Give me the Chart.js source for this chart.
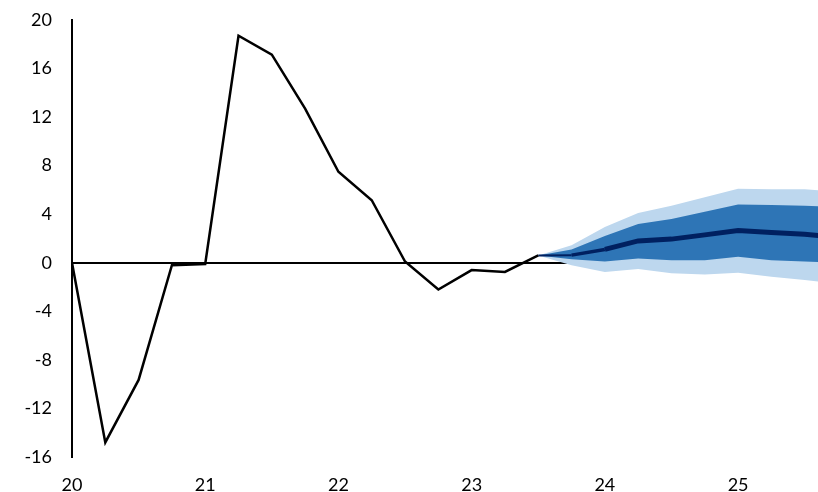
<!DOCTYPE html>
<html>
<head>
<meta charset="utf-8">
<script src="https://cdn.jsdelivr.net/npm/chart.js@4.4.1/dist/chart.umd.min.js"></script>
<style>
  html, body { margin: 0; padding: 0; background: #fff; }
  #wrap { width: 818px; height: 492px; }
</style>
</head>
<body>
<div id="wrap"><canvas id="fan-chart"></canvas></div>
<script>
// Outturn, quarterly from 20 (year) onward
const histQuarters = [20, 20.25, 20.5, 20.75, 21, 21.25, 21.5, 21.75, 22, 22.25, 22.5, 22.75, 23, 23.25, 23.5];
const histValues = [0, -14.8, -9.65, -0.2, -0.1, 18.7, 17.15, 12.7, 7.5, 5.15, 0.1, -2.2, -0.6, -0.75, 0.6];

// Projection fan
const fanQuarters = [23.5, 23.75, 24, 24.25, 24.5, 24.75, 25, 25.25, 25.5, 25.75];
const centralValues = [0.6, 0.63, 1.1, 1.8, 1.95, 2.3, 2.65, 2.5, 2.35, 2.1];
const innerUpper = [0.6, 1.1, 2.2, 3.2, 3.6, 4.2, 4.8, 4.75, 4.7, 4.6];
const innerLower = [0.6, 0.3, 0.1, 0.35, 0.2, 0.2, 0.5, 0.2, 0.1, 0.0];
const outerUpper = [0.6, 1.45, 2.95, 4.1, 4.7, 5.4, 6.1, 6.05, 6.05, 5.85];
const outerLower = [0.6, -0.2, -0.75, -0.52, -0.87, -0.96, -0.82, -1.15, -1.42, -1.75];

const yTicks = [-16, -12, -8, -4, 0, 4, 8, 12, 16, 20];

const toPoints = (xs, ys) => xs.map((x, i) => ({ x: x, y: ys[i] }));

const ctx = document.getElementById('fan-chart').getContext('2d');

new Chart(ctx, {
    type: 'line',
    data: {
        datasets: [
            {
                data: toPoints(histQuarters, histValues),
                borderColor: '#000000',
                borderWidth: 2.5,
                pointRadius: 0,
                fill: false
            },
            {
                data: toPoints(fanQuarters, centralValues),
                borderColor: '#002060',
                borderWidth: 5,
                pointRadius: 0,
                fill: false,
                // central band widens out from the last outturn
                segment: {
                    borderWidth: (s) => (s.p0DataIndex === 0 ? 2 : s.p0DataIndex === 1 ? 3.5 : 5)
                }
            },
            {
                data: toPoints(fanQuarters, innerUpper),
                borderWidth: 0,
                borderColor: 'rgba(0,0,0,0)',
                backgroundColor: '#2E75B6',
                pointRadius: 0,
                fill: '+1'
            },
            {
                data: toPoints(fanQuarters, innerLower),
                borderWidth: 0,
                borderColor: 'rgba(0,0,0,0)',
                pointRadius: 0,
                fill: false
            },
            {
                data: toPoints(fanQuarters, outerUpper),
                borderWidth: 0,
                borderColor: 'rgba(0,0,0,0)',
                backgroundColor: '#BDD7EE',
                pointRadius: 0,
                fill: '+1'
            },
            {
                data: toPoints(fanQuarters, outerLower),
                borderWidth: 0,
                borderColor: 'rgba(0,0,0,0)',
                pointRadius: 0,
                fill: false
            }
        ]
    },
    options: {
        responsive: true,
        maintainAspectRatio: false,
        animation: false,
        layout: {
            padding: { top: 20, right: 0, left: 0, bottom: 0 }
        },
        elements: {
            line: { tension: 0 }
        },
        scales: {
            x: {
                type: 'linear',
                min: 20,
                max: 25.6,
                grid: { display: false, drawTicks: false },
                border: { display: false },
                ticks: {
                    stepSize: 1,
                    includeBounds: false,
                    color: '#000000',
                    padding: 17,
                    maxRotation: 0,
                    font: { family: 'Lato', size: 18 }
                },
                afterFit: (scale) => { scale.height = 35; }
            },
            y: {
                min: -16,
                max: 20,
                z: 1,
                afterBuildTicks: (scale) => {
                    scale.ticks = yTicks.map(v => ({ value: v }));
                },
                grid: {
                    drawTicks: false,
                    lineWidth: 2,
                    color: (c) => (c.tick && c.tick.value === 0 ? '#000000' : 'rgba(0,0,0,0)')
                },
                border: { display: true, color: '#000000', width: 2 },
                ticks: {
                    color: '#000000',
                    padding: 20,
                    font: { family: 'Lato', size: 18 }
                },
                afterFit: (scale) => {
                    scale.width = 72;
                    // tick padding otherwise pushes the plot area down
                    scale.paddingTop = 0;
                    scale.paddingBottom = 0;
                }
            }
        },
        plugins: {
            legend: { display: false },
            tooltip: { enabled: false }
        }
    }
});
</script>
</body>
</html>
